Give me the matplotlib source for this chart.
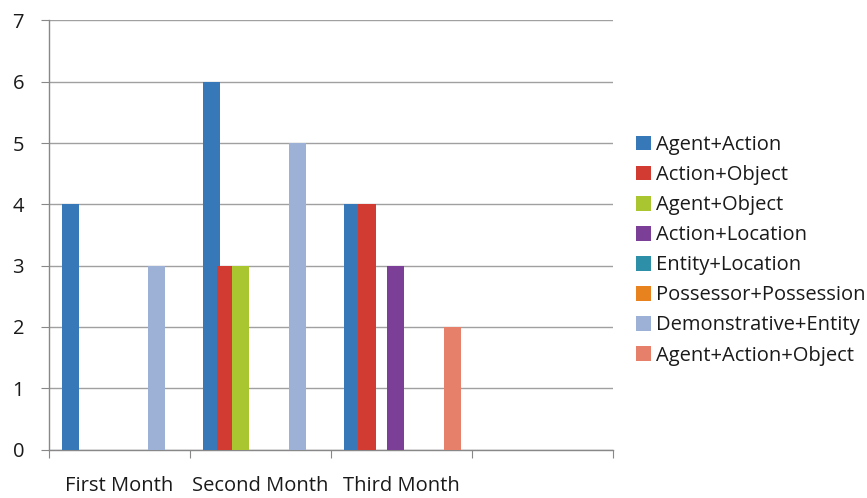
import numpy as np
import matplotlib
matplotlib.use("Agg")
import matplotlib.pyplot as plt
from matplotlib.patches import Patch

plt.rcParams['font.family'] = ['Open Sans', 'DejaVu Sans']
plt.rcParams['text.color'] = '#1a1a1a'
plt.rcParams['xtick.labelcolor'] = '#1a1a1a'
plt.rcParams['ytick.labelcolor'] = '#1a1a1a'

# Data
months = ["First Month", "Second Month", "Third Month", ""]
series = ["Agent+Action", "Action+Object", "Agent+Object", "Action+Location",
          "Entity+Location", "Possessor+Possession", "Demonstrative+Entity",
          "Agent+Action+Object"]
agent_action = [4, 6, 4, 0]
action_object = [0, 3, 4, 0]
agent_object = [0, 3, 0, 0]
action_location = [0, 0, 3, 0]
entity_location = [0, 0, 0, 0]
possessor_possession = [0, 0, 0, 0]
demonstrative_entity = [3, 5, 0, 0]
agent_action_object = [0, 0, 2, 0]
values = [agent_action, action_object, agent_object, action_location,
          entity_location, possessor_possession, demonstrative_entity,
          agent_action_object]
colors = ["#3778B9", "#D13B32", "#A9C52F", "#7B3F97",
          "#2E8FA8", "#E8821E", "#9DB0D5", "#E7806B"]

fig = plt.figure(figsize=(8.67, 4.98), dpi=100)
ax = fig.add_axes([49/867, 1-449.5/498, (613-49)/867, (449.5-20.5)/498])

x = np.arange(len(months))
step = 0.1014
width = 0.123
first = -0.408 + width/2
for i, (name, vals, c) in enumerate(zip(series, values, colors)):
    ax.bar(x + first + i*step, vals, width=width, color=c, zorder=3 + i)

ax.set_xlim(-0.5, len(months) - 0.5)
ax.set_ylim(0, 7)
ax.set_yticks(range(0, 8))

ax.set_xticks(np.arange(len(months) + 1) - 0.5)
ax.set_xticklabels([])
ax.set_xticks(x, minor=True)
ax.set_xticklabels(months, minor=True)
ax.tick_params(axis='x', which='minor', length=0, pad=19, labelsize=14.5)
ax.tick_params(axis='x', which='major', length=6, color='#888888', direction='out')
ax.tick_params(axis='y', length=6, color='#888888', labelsize=14.5, pad=12)

ax.grid(axis='y', color='#A0A0A0', linewidth=1, zorder=0)
ax.set_axisbelow(True)
for s in ['top', 'right']:
    ax.spines[s].set_visible(False)
for s in ['left', 'bottom']:
    ax.spines[s].set_color('#888888')
    ax.spines[s].set_linewidth(1)

handles = [Patch(facecolor=c, edgecolor='none') for c in colors]
fig.legend(handles, series, loc='upper left',
           bbox_to_anchor=(628/867, 1-127/498), frameon=False,
           fontsize=14.5, handlelength=0.75, handleheight=0.75,
           handletextpad=0.25, labelspacing=0.5, borderaxespad=0)

fig.savefig("out.png", dpi=100)
